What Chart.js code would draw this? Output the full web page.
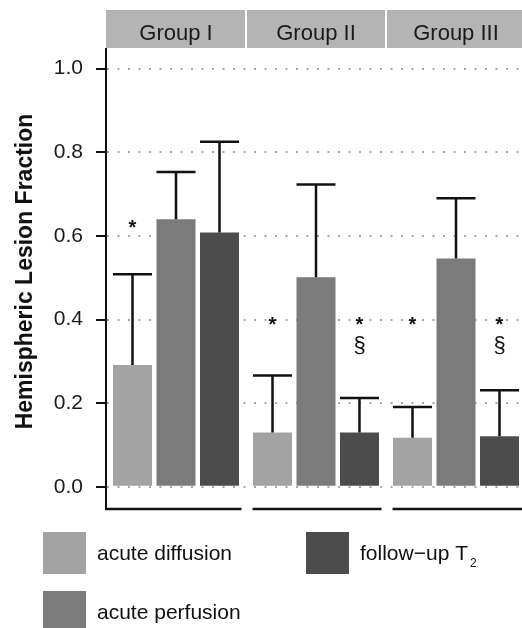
<!DOCTYPE html>
<html><head><meta charset="utf-8">
<script src="https://cdn.jsdelivr.net/npm/chart.js@4.4.1/dist/chart.umd.min.js"></script>
<style>
html,body{margin:0;padding:0;background:#fff;overflow:hidden;width:522px;height:628px}
#wrap{width:526px;height:628px}
</style></head>
<body><div id="wrap"><canvas id="c" width="526" height="628"></canvas></div>
<script>
const groups = ["Group I", "Group II", "Group III"];
const seriesNames = ["acute diffusion", "acute perfusion", "follow\u2212up T"];
const seriesSub = ["", "", "2"];
const diffusion = [0.291, 0.130, 0.117];
const perfusion = [0.640, 0.501, 0.546];
const followUpT2 = [0.608, 0.130, 0.121];
const diffusionErr = [0.217, 0.136, 0.074];
const perfusionErr = [0.113, 0.222, 0.144];
const followUpT2Err = [0.217, 0.082, 0.110];
const yTicks = [0, 0.2, 0.4, 0.6, 0.8, 1.0];
const yTitle = "Hemispheric Lesion Fraction";
// significance marks: group index, series index, symbol, value where the symbol sits
const markGroup = [0, 1, 1, 1, 2, 2, 2];
const markSeries = [0, 0, 2, 2, 0, 2, 2];
const markSymbol = ["*", "*", "*", "\u00a7", "*", "*", "\u00a7"];
const markValue = [0.628, 0.397, 0.397, 0.339, 0.397, 0.397, 0.339];

const FONT = '"Liberation Sans", Arial, Helvetica, sans-serif';
const colors = ["#a3a3a3", "#7b7b7b", "#4c4c4c"];

const facetPlugin = {
  id: 'facet',
  beforeDraw(chart) {
    const {ctx, chartArea: a, scales: {x}} = chart;
    const w = (a.right - a.left) / groups.length;
    ctx.save();
    groups.forEach((g, i) => {
      const c = x.getPixelForValue(i);
      const l = i === 0 ? a.left : c - w / 2 + 1;
      const r = c + w / 2 - 1;
      ctx.fillStyle = '#b4b4b4';
      ctx.fillRect(l, 10, r - l, 38);
      ctx.fillStyle = '#1a1a1a';
      ctx.font = '22px ' + FONT;
      ctx.textAlign = 'center';
      ctx.textBaseline = 'alphabetic';
      ctx.fillText(g, c, 40);
    });
    ctx.restore();
  },
  afterDatasetsDraw(chart) {
    const {ctx, scales: {y}} = chart;
    ctx.save();
    ctx.strokeStyle = '#111';
    ctx.lineWidth = 2.5;
    chart.data.datasets.forEach((ds, di) => {
      const meta = chart.getDatasetMeta(di);
      meta.data.forEach((bar, j) => {
        const top = y.getPixelForValue(ds.data[j] + ds.errors[j]);
        const hw = bar.width / 2;
        ctx.beginPath();
        ctx.moveTo(bar.x, bar.y);
        ctx.lineTo(bar.x, top);
        ctx.moveTo(bar.x - hw, top);
        ctx.lineTo(bar.x + hw, top);
        ctx.stroke();
      });
    });
    ctx.fillStyle = '#111';
    ctx.textAlign = 'center';
    ctx.textBaseline = 'alphabetic';
    markSymbol.forEach((sym, k) => {
      const bar = chart.getDatasetMeta(markSeries[k]).data[markGroup[k]];
      const py = y.getPixelForValue(markValue[k]);
      ctx.font = (sym === '*' ? 'bold 20px ' : '22px ') + FONT;
      const m = ctx.measureText(sym);
      const base = py + (m.actualBoundingBoxAscent - m.actualBoundingBoxDescent) / 2;
      ctx.fillText(sym, bar.x, base);
    });
    ctx.restore();
  },
  afterDraw(chart) {
    const {ctx, chartArea: a, scales: {x}} = chart;
    const w = (a.right - a.left) / groups.length;
    ctx.save();
    // per-panel bottom axis lines
    ctx.strokeStyle = '#111';
    ctx.lineWidth = 2.5;
    groups.forEach((g, i) => {
      const c = x.getPixelForValue(i);
      const l = i === 0 ? a.left - 1 : c - w / 2 + 6.5;
      const r = i === groups.length - 1 ? a.right : c + w / 2 - 4.5;
      ctx.beginPath();
      ctx.moveTo(l, a.bottom);
      ctx.lineTo(r, a.bottom);
      ctx.stroke();
    });
    // y title
    ctx.save();
    ctx.translate(0, 271.5);
    ctx.rotate(-Math.PI / 2);
    ctx.font = 'bold 23px ' + FONT;
    ctx.fillStyle = '#111';
    ctx.textAlign = 'center';
    ctx.textBaseline = 'alphabetic';
    ctx.fillText(yTitle, 0, 32.3);
    ctx.restore();
    // legend (two columns, column-major)
    const slots = [[43, 532], [43, 591], [306, 532]];
    chart.data.datasets.forEach((ds, i) => {
      const [lx, ly] = slots[i];
      ctx.fillStyle = ds.backgroundColor;
      ctx.fillRect(lx, ly, 43, 42);
      ctx.fillStyle = '#111';
      ctx.font = '21px ' + FONT;
      ctx.textAlign = 'left';
      ctx.textBaseline = 'alphabetic';
      ctx.fillText(ds.label, lx + 54, ly + 28);
      if (seriesSub[i]) {
        const tw = ctx.measureText(ds.label).width;
        ctx.font = '12px ' + FONT;
        ctx.fillText(seriesSub[i], lx + 54 + tw + 2, ly + 35);
      }
    });
    ctx.restore();
  }
};

new Chart(document.getElementById('c'), {
  type: 'bar',
  data: {
    labels: groups,
    datasets: [
      {label: seriesNames[0], data: diffusion, errors: diffusionErr, backgroundColor: colors[0]},
      {label: seriesNames[1], data: perfusion, errors: perfusionErr, backgroundColor: colors[1]},
      {label: seriesNames[2], data: followUpT2, errors: followUpT2Err, backgroundColor: colors[2]}
    ]
  },
  options: {
    responsive: false,
    animation: false,
    devicePixelRatio: 1,
    layout: {padding: {top: 49, bottom: 119, left: 0, right: 0}},
    datasets: {bar: {categoryPercentage: 0.932, barPercentage: 0.897, borderWidth: 0}},
    plugins: {legend: {display: false}, tooltip: {enabled: false}},
    scales: {
      x: {type: 'category', display: false, offset: true, grid: {display: false}},
      y: {
        min: -0.0533, max: 1.0471,
        afterBuildTicks(s) { s.ticks = yTicks.map(v => ({value: v})); },
        afterFit(s) { s.width = 106; },
        ticks: {padding: 13, color: '#1a1a1a', font: {family: FONT, size: 21}, callback: v => Number(v).toFixed(1)},
        grid: {color: '#a8a8a8', lineWidth: 2, drawTicks: true, tickLength: 10, tickColor: '#111', tickWidth: 2, tickBorderDash: []},
        border: {display: true, color: '#111', width: 2, dash: [2, 8.5]}
      }
    }
  },
  plugins: [facetPlugin]
});
</script>
</body></html>
